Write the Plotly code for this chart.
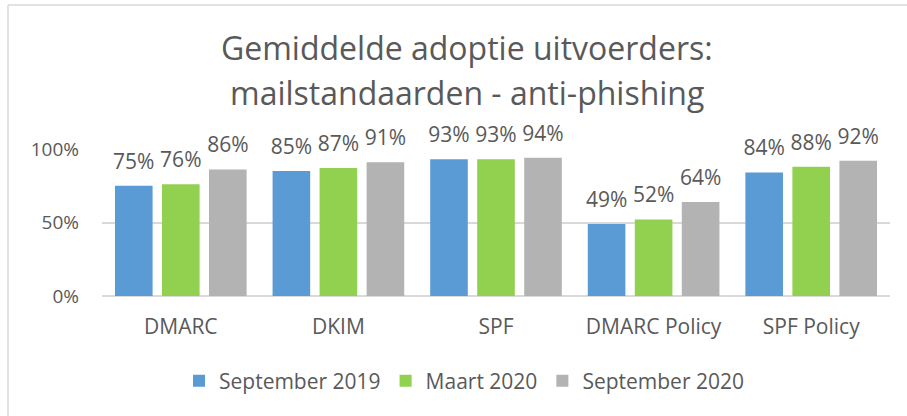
import plotly.graph_objects as go

categories = ["DMARC", "DKIM", "SPF", "DMARC Policy", "SPF Policy"]
series_names = ["September 2019", "Maart 2020", "September 2020"]
sep2019 = [0.75, 0.85, 0.93, 0.49, 0.84]
maart2020 = [0.76, 0.87, 0.93, 0.52, 0.88]
sep2020 = [0.86, 0.91, 0.94, 0.64, 0.92]
colors = ["#5B9BD5", "#92D050", "#B3B3B3"]
y_ticks = [0, 0.5, 1.0]
y_ticklabels = ["0%", "50%", "100%"]
title_lines = ["Gemiddelde adoptie uitvoerders:", "mailstandaarden - anti-phishing"]

W, H = 907, 416
L, R, T, B = 102, 17, 149, 120
pw = W - L - R
ph = H - T - B
LABEL_SHIFT = 0.055  # label axis offset (fraction of value axis)

TXT = "#595959"
FONT = "Open Sans"

fig = go.Figure()
all_vals = [sep2019, maart2020, sep2020]
for name, vals, col in zip(series_names, all_vals, colors):
    fig.add_trace(go.Bar(
        x=categories, y=vals, name=name,
        marker=dict(color=col, line=dict(width=0)),
        hoverinfo="x+y",
    ))
# invisible twin bars on a shifted axis carry the data labels
for name, vals in zip(series_names, all_vals):
    fig.add_trace(go.Bar(
        x=categories, y=vals, name=name, yaxis="y2", showlegend=False,
        marker=dict(color="rgba(0,0,0,0)", line=dict(width=0)),
        texttemplate="%{y:.0%}", textposition="outside",
        constraintext="none", cliponaxis=False, hoverinfo="skip",
        textfont=dict(size=21, color=TXT, family=FONT),
    ))

def px2x(px):
    return (px - L) / pw

def px2y(py):
    return (H - B - py) / ph

annotations = []
for line, cy in zip(title_lines, [48, 92]):
    annotations.append(dict(
        text=line, xref="paper", yref="paper",
        x=px2x(467), y=px2y(cy), xanchor="center", yanchor="middle",
        showarrow=False, font=dict(size=32, color=TXT, family=FONT),
    ))

fig.update_layout(
    width=W, height=H,
    margin=dict(l=L, r=R, t=T, b=B, autoexpand=False),
    paper_bgcolor="white", plot_bgcolor="white",
    font=dict(family=FONT, color=TXT),
    barmode="group", bargap=0.105, bargroupgap=0.2,
    legend=dict(
        orientation="h", x=px2x(464), xanchor="center",
        y=px2y(381), yanchor="middle",
        font=dict(size=21, color=TXT, family=FONT),
        itemwidth=30, traceorder="normal",
    ),
    showlegend=True,
    annotations=annotations,
    xaxis=dict(
        showgrid=False, showline=False, ticks="", zeroline=False,
        tickfont=dict(size=21, color=TXT, family=FONT),
        ticklabelstandoff=16,
    ),
    yaxis=dict(
        range=[0, 1.0], tickvals=y_ticks, ticktext=y_ticklabels,
        showgrid=True, gridcolor="#D9D9D9", gridwidth=1.5,
        zeroline=True, zerolinecolor="#D9D9D9", zerolinewidth=1.5,
        showline=False, ticks="",
        tickfont=dict(size=19, color=TXT, family=FONT),
        ticklabelstandoff=22,
    ),
    yaxis2=dict(
        overlaying="y", range=[-LABEL_SHIFT, 1.0 - LABEL_SHIFT],
        visible=False, showgrid=False, zeroline=False,
    ),
    shapes=[
        dict(type="line", xref="paper", yref="paper",
             x0=px2x(8), x1=px2x(8), y0=px2y(5), y1=px2y(416),
             line=dict(color="#D9D9D9", width=1.5)),
        dict(type="line", xref="paper", yref="paper",
             x0=px2x(8), x1=px2x(907), y0=px2y(5), y1=px2y(5),
             line=dict(color="#D9D9D9", width=1.5)),
    ],
)

fig.write_html(
    "out.html",
    config={"displayModeBar": False},
    post_script="document.body.style.margin='0px';document.body.style.overflow='hidden';",
)
